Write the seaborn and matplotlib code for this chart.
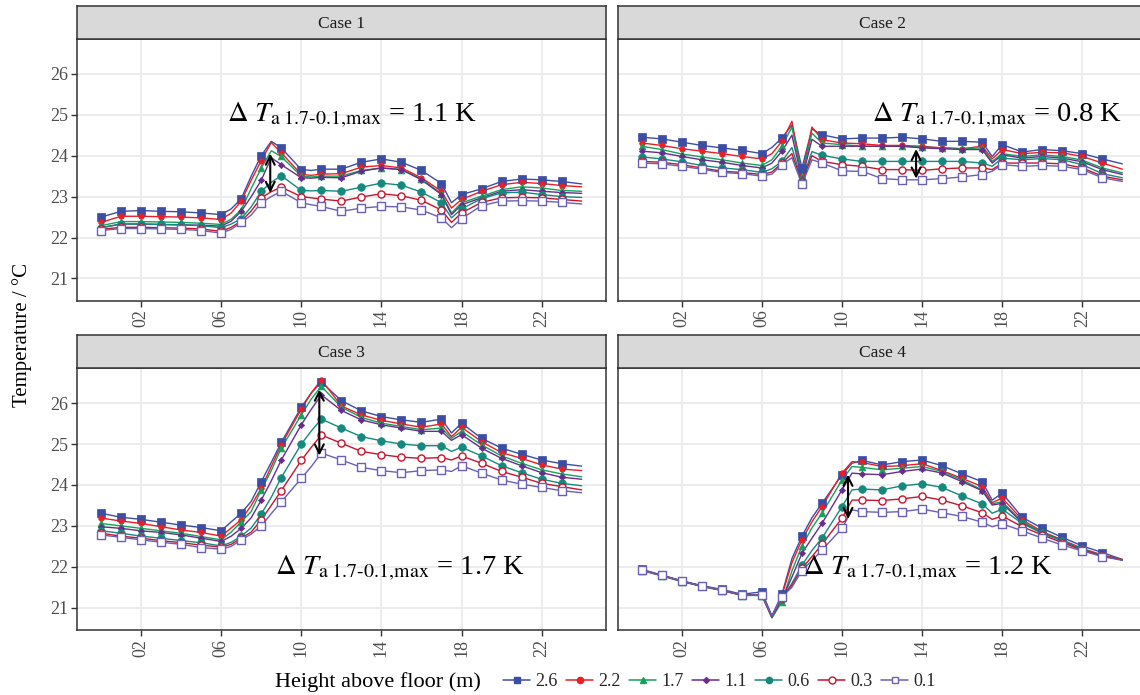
import numpy as np
import pandas as pd
import seaborn as sns
import matplotlib.pyplot as plt
from matplotlib.lines import Line2D

# time of day (h); markers are drawn on the whole hours only
hours = [0, 1, 2, 3, 4, 5, 6, 6.5, 7, 7.5, 8, 8.5, 9, 10, 10.5, 11, 12, 13, 14, 15,
         16, 17, 17.5, 18, 19, 20, 21, 22, 23, 24]
heights = ['2.6', '2.2', '1.7', '1.1', '0.6', '0.3', '0.1']
cases = ['Case 1', 'Case 2', 'Case 3', 'Case 4']

# temperatures per height (rows in the order of heights)
case1 = [
    [22.50, 22.64, 22.66, 22.64, 22.63, 22.60, 22.56, 22.70, 22.95, 23.50, 24.00, 24.35, 24.19, 23.66, 23.64, 23.67, 23.67, 23.84, 23.92, 23.84, 23.64, 23.32, 22.85, 23.05, 23.19, 23.37, 23.43, 23.41, 23.37, 23.31],
    [22.37, 22.52, 22.52, 22.51, 22.50, 22.48, 22.44, 22.60, 22.89, 23.40, 23.88, 24.32, 24.07, 23.54, 23.52, 23.55, 23.56, 23.72, 23.76, 23.70, 23.46, 23.13, 22.72, 22.93, 23.13, 23.29, 23.35, 23.32, 23.27, 23.24],
    [22.29, 22.39, 22.39, 22.38, 22.37, 22.35, 22.32, 22.45, 22.68, 23.20, 23.70, 24.12, 23.98, 23.50, 23.48, 23.50, 23.50, 23.64, 23.70, 23.66, 23.43, 23.07, 22.60, 22.85, 23.01, 23.17, 23.24, 23.21, 23.15, 23.13],
    [22.24, 22.33, 22.33, 22.32, 22.31, 22.30, 22.28, 22.40, 22.64, 23.00, 23.40, 23.95, 23.78, 23.46, 23.45, 23.47, 23.46, 23.62, 23.70, 23.66, 23.41, 23.05, 22.56, 22.80, 22.97, 23.13, 23.17, 23.13, 23.10, 23.08],
    [22.24, 22.33, 22.33, 22.32, 22.31, 22.29, 22.24, 22.33, 22.46, 22.75, 23.13, 23.35, 23.51, 23.15, 23.14, 23.15, 23.13, 23.23, 23.33, 23.28, 23.11, 22.85, 22.48, 22.70, 22.95, 23.09, 23.11, 23.05, 23.00, 22.98],
    [22.20, 22.25, 22.25, 22.24, 22.23, 22.21, 22.15, 22.25, 22.40, 22.65, 22.97, 23.12, 23.23, 23.00, 22.97, 22.94, 22.89, 22.99, 23.07, 23.02, 22.91, 22.67, 22.37, 22.60, 22.86, 22.97, 22.98, 22.97, 22.93, 22.89],
    [22.17, 22.22, 22.22, 22.21, 22.20, 22.17, 22.11, 22.20, 22.37, 22.55, 22.85, 23.00, 23.13, 22.85, 22.80, 22.76, 22.64, 22.72, 22.76, 22.75, 22.67, 22.48, 22.24, 22.46, 22.78, 22.89, 22.90, 22.89, 22.86, 22.82],
]
case2 = [
    [24.45, 24.41, 24.33, 24.25, 24.19, 24.13, 24.05, 24.20, 24.43, 24.75, 23.70, 24.65, 24.51, 24.41, 24.42, 24.43, 24.43, 24.45, 24.41, 24.35, 24.35, 24.33, 23.98, 24.27, 24.09, 24.15, 24.12, 24.05, 23.92, 23.80],
    [24.31, 24.25, 24.17, 24.11, 24.05, 23.98, 23.92, 24.05, 24.35, 24.84, 23.50, 24.70, 24.39, 24.31, 24.30, 24.29, 24.25, 24.25, 24.23, 24.19, 24.17, 24.23, 23.92, 24.15, 24.05, 24.08, 24.07, 23.98, 23.82, 23.67],
    [24.23, 24.15, 24.04, 23.97, 23.90, 23.82, 23.76, 23.90, 24.23, 24.70, 23.50, 24.55, 24.31, 24.27, 24.25, 24.23, 24.23, 24.23, 24.21, 24.19, 24.17, 24.19, 23.86, 24.05, 23.98, 24.02, 23.98, 23.89, 23.70, 23.58],
    [24.11, 24.07, 23.98, 23.90, 23.84, 23.76, 23.70, 23.82, 24.11, 24.50, 23.42, 24.40, 24.23, 24.23, 24.23, 24.23, 24.23, 24.23, 24.19, 24.17, 24.15, 24.15, 23.82, 24.02, 23.94, 23.98, 23.94, 23.85, 23.66, 23.54],
    [23.97, 23.92, 23.85, 23.76, 23.70, 23.66, 23.59, 23.68, 23.86, 24.20, 23.38, 24.10, 24.01, 23.92, 23.89, 23.86, 23.86, 23.86, 23.86, 23.86, 23.86, 23.82, 23.74, 23.94, 23.90, 23.93, 23.90, 23.78, 23.56, 23.46],
    [23.86, 23.84, 23.78, 23.70, 23.62, 23.59, 23.54, 23.60, 23.82, 24.05, 23.35, 24.00, 23.86, 23.78, 23.76, 23.74, 23.66, 23.66, 23.64, 23.68, 23.70, 23.70, 23.66, 23.82, 23.82, 23.82, 23.80, 23.70, 23.50, 23.41],
    [23.82, 23.80, 23.74, 23.67, 23.59, 23.56, 23.50, 23.55, 23.78, 23.95, 23.30, 23.90, 23.82, 23.63, 23.62, 23.62, 23.44, 23.41, 23.41, 23.44, 23.48, 23.54, 23.62, 23.78, 23.74, 23.76, 23.74, 23.66, 23.46, 23.37],
]
case3 = [
    [23.31, 23.21, 23.16, 23.09, 23.02, 22.96, 22.88, 23.10, 23.31, 23.60, 24.08, 24.55, 25.04, 25.90, 26.25, 26.51, 26.06, 25.81, 25.67, 25.59, 25.53, 25.61, 25.27, 25.51, 25.14, 24.90, 24.75, 24.61, 24.52, 24.46],
    [23.19, 23.12, 23.06, 22.98, 22.90, 22.84, 22.75, 22.95, 23.15, 23.50, 23.92, 24.45, 24.98, 25.85, 26.25, 26.57, 25.93, 25.71, 25.58, 25.49, 25.41, 25.49, 25.18, 25.41, 25.06, 24.79, 24.65, 24.49, 24.39, 24.35],
    [23.06, 23.00, 22.94, 22.88, 22.82, 22.74, 22.66, 22.85, 23.10, 23.35, 23.88, 24.35, 24.90, 25.71, 26.10, 26.41, 25.90, 25.65, 25.51, 25.43, 25.35, 25.39, 25.14, 25.31, 24.98, 24.71, 24.53, 24.37, 24.27, 24.20],
    [22.98, 22.94, 22.88, 22.84, 22.78, 22.70, 22.62, 22.75, 22.94, 23.20, 23.63, 24.10, 24.61, 25.47, 25.85, 26.20, 25.82, 25.59, 25.47, 25.39, 25.31, 25.31, 25.09, 25.23, 24.90, 24.65, 24.47, 24.30, 24.19, 24.14],
    [22.88, 22.82, 22.75, 22.70, 22.64, 22.59, 22.51, 22.60, 22.75, 22.95, 23.29, 23.70, 24.18, 25.00, 25.32, 25.61, 25.39, 25.18, 25.08, 25.00, 24.96, 24.96, 24.82, 24.92, 24.71, 24.47, 24.30, 24.14, 24.04, 23.98],
    [22.82, 22.75, 22.70, 22.64, 22.59, 22.53, 22.48, 22.55, 22.70, 22.85, 23.15, 23.50, 23.86, 24.60, 24.92, 25.22, 25.02, 24.82, 24.74, 24.68, 24.65, 24.67, 24.61, 24.71, 24.53, 24.33, 24.19, 24.04, 23.96, 23.88],
    [22.78, 22.72, 22.66, 22.60, 22.55, 22.47, 22.43, 22.50, 22.66, 22.80, 23.00, 23.30, 23.59, 24.16, 24.45, 24.78, 24.61, 24.43, 24.35, 24.30, 24.35, 24.37, 24.33, 24.47, 24.29, 24.12, 24.02, 23.94, 23.86, 23.81],
]
case4 = [
    [21.94, 21.80, 21.66, 21.54, 21.45, 21.33, 21.39, 20.80, 21.33, 22.20, 22.75, 23.20, 23.55, 24.25, 24.53, 24.60, 24.49, 24.57, 24.61, 24.47, 24.27, 24.08, 23.63, 23.80, 23.21, 22.94, 22.72, 22.51, 22.35, 22.18],
    [21.92, 21.79, 21.65, 21.53, 21.43, 21.31, 21.31, 20.78, 21.30, 22.10, 22.66, 23.10, 23.47, 24.29, 24.57, 24.55, 24.45, 24.47, 24.52, 24.35, 24.16, 23.96, 23.57, 23.68, 23.15, 22.86, 22.66, 22.45, 22.29, 22.18],
    [21.91, 21.78, 21.64, 21.52, 21.42, 21.30, 21.30, 20.75, 21.15, 21.90, 22.51, 22.95, 23.31, 24.12, 24.45, 24.43, 24.37, 24.41, 24.45, 24.33, 24.12, 23.88, 23.54, 23.59, 23.10, 22.84, 22.64, 22.43, 22.27, 22.17],
    [21.92, 21.79, 21.65, 21.53, 21.43, 21.31, 21.31, 20.77, 21.20, 21.75, 22.33, 22.70, 23.06, 23.88, 24.29, 24.27, 24.25, 24.33, 24.39, 24.29, 24.08, 23.86, 23.51, 23.55, 23.08, 22.82, 22.64, 22.41, 22.27, 22.17],
    [21.92, 21.79, 21.65, 21.53, 21.43, 21.31, 21.31, 20.78, 21.22, 21.60, 22.04, 22.40, 22.70, 23.47, 23.88, 23.90, 23.88, 23.98, 24.03, 23.94, 23.73, 23.54, 23.31, 23.41, 23.06, 22.82, 22.64, 22.43, 22.27, 22.17],
    [21.92, 21.79, 21.65, 21.53, 21.43, 21.31, 21.31, 20.79, 21.25, 21.55, 21.96, 22.25, 22.55, 23.19, 23.63, 23.63, 23.62, 23.66, 23.72, 23.63, 23.49, 23.32, 23.16, 23.24, 22.98, 22.78, 22.59, 22.41, 22.27, 22.17],
    [21.92, 21.79, 21.65, 21.53, 21.43, 21.31, 21.31, 20.80, 21.27, 21.50, 21.91, 22.15, 22.41, 22.94, 23.39, 23.35, 23.33, 23.35, 23.41, 23.32, 23.23, 23.09, 22.98, 23.05, 22.88, 22.70, 22.53, 22.39, 22.25, 22.16],
]

# max difference 1.7 m - 0.1 m per case
delta_labels = ['1.1', '0.8', '1.7', '1.2']
arrow_x = [8.45, 13.7, 10.9, 10.3]
arrow_top = [24.12, 24.23, 26.40, 24.32]
arrow_bottom = [23.02, 23.37, 24.65, 23.10]
label_x = [6.3, 11.5, 8.7, 8.05]
label_y = [24.84, 24.84, 21.80, 21.80]

tick_hours = [2, 6, 10, 14, 18, 22]
tick_labels = ['02', '06', '10', '14', '18', '22']

colors = {'2.6': '#3b4ea3', '2.2': '#ee1c25', '1.7': '#16a05a', '1.1': '#682c8f',
          '0.6': '#15897d', '0.3': '#c8142c', '0.1': '#6a60b4'}
markers = {'2.6': 's', '2.2': 'o', '1.7': '^', '1.1': 'D', '0.6': 'o', '0.3': 'o', '0.1': 's'}
msize = {'2.6': 26, '2.2': 16, '1.7': 24, '1.1': 10, '0.6': 30, '0.3': 26, '0.1': 26}
hollow = {'0.3', '0.1'}

rows = []
for case, block in zip(cases, [case1, case2, case3, case4]):
    for h, vals in zip(heights, block):
        for t, v in zip(hours, vals):
            rows.append((case, h, t, v))
df = pd.DataFrame(rows, columns=['case', 'height', 'hour', 'temp'])

sns.set_theme(style='white')
plt.rcParams['font.family'] = ['Liberation Serif', 'DejaVu Serif']
plt.rcParams['mathtext.fontset'] = 'stix'

W, H = 1140, 695
fig = plt.figure(figsize=(11.4, 6.95), dpi=100)

col_left = [77, 617.7]
panel_w = 528.7
row_top = [39, 368.3]
panel_h = 262
strip_h = 33

for i, case in enumerate(cases):
    r, c = divmod(i, 2)
    x0 = col_left[c]
    y0 = row_top[r]
    ax = fig.add_axes([x0 / W, (H - y0 - panel_h) / H, panel_w / W, panel_h / H])
    sax = fig.add_axes([x0 / W, (H - y0) / H, panel_w / W, strip_h / H])
    sax.set_facecolor('#d9d9d9')
    sax.set_xticks([])
    sax.set_yticks([])
    for sp in sax.spines.values():
        sp.set_color('#333333')
        sp.set_linewidth(1.1)
    sax.text(0.5, 0.45, case, ha='center', va='center', fontsize=12.5, color='#1a1a1a',
             transform=sax.transAxes)

    sub = df[df['case'] == case]
    for h in heights:
        s = sub[sub['height'] == h]
        sns.lineplot(data=s, x='hour', y='temp', color=colors[h], lw=1.0, ax=ax,
                     legend=False, zorder=2)
        m = s[(s['hour'] % 1 == 0) & (s['hour'] < 24)]
        if h in hollow:
            sns.scatterplot(data=m, x='hour', y='temp', marker=markers[h], s=msize[h],
                            facecolor='white', edgecolor=colors[h], linewidth=1.0,
                            ax=ax, legend=False, zorder=3)
        else:
            sns.scatterplot(data=m, x='hour', y='temp', marker=markers[h], s=msize[h],
                            color=colors[h], edgecolor=colors[h], linewidth=0.5,
                            ax=ax, legend=False, zorder=3)

    ax.annotate('', xy=(arrow_x[i], arrow_bottom[i]), xytext=(arrow_x[i], arrow_top[i]),
                arrowprops=dict(arrowstyle='<->', color='black', lw=1.5, mutation_scale=16),
                zorder=5)
    ax.text(label_x[i], label_y[i],
            r'$\Delta\ T_{\mathrm{a\ 1.7‐0.1,\!max}}$' + ' = ' + delta_labels[i] + ' K',
            fontsize=20.5, ha='left', va='baseline', color='black', zorder=6)

    ax.set_xlim(-1.2, 25.2)
    ax.set_ylim(20.45, 26.85)
    ax.set_xticks(tick_hours)
    ax.set_xticklabels(tick_labels, rotation=90)
    ax.set_yticks([21, 22, 23, 24, 25, 26])
    ax.grid(True, color='#ebebeb', lw=1.3)
    ax.set_axisbelow(True)
    ax.set_xlabel('')
    ax.set_ylabel('')
    ax.tick_params(axis='both', colors='#333333', labelcolor='#4d4d4d', labelsize=13,
                   length=4, width=1, direction='out', bottom=True, left=(c == 0), pad=2)
    if c == 1:
        ax.set_yticklabels([])
    for sp in ax.spines.values():
        sp.set_color('#333333')
        sp.set_linewidth(1.1)

fig.text(22 / W, 1 - 335 / H, 'Temperature / °C', rotation=90, ha='center', va='center',
         fontsize=15, color='black')

# legend at the bottom
fig.text(275 / W, 1 - 682 / H, 'Height above floor (m)', ha='left', va='center',
         fontsize=16, color='black')
handles = []
for h in heights:
    if h in hollow:
        handles.append(Line2D([], [], color=colors[h], lw=1.1, marker=markers[h],
                              markersize=5, markerfacecolor='white',
                              markeredgecolor=colors[h]))
    else:
        handles.append(Line2D([], [], color=colors[h], lw=1.1, marker=markers[h],
                              markersize=4.5 if h != '1.1' else 3,
                              markerfacecolor=colors[h], markeredgecolor=colors[h]))
fig.legend(handles, heights, loc='center left', bbox_to_anchor=(503 / W, 1 - 682 / H),
           ncol=7, frameon=False, fontsize=13, handlelength=1.5, handletextpad=0.3,
           columnspacing=0.45, borderpad=0, borderaxespad=0)

fig.savefig('out.png', dpi=100)
